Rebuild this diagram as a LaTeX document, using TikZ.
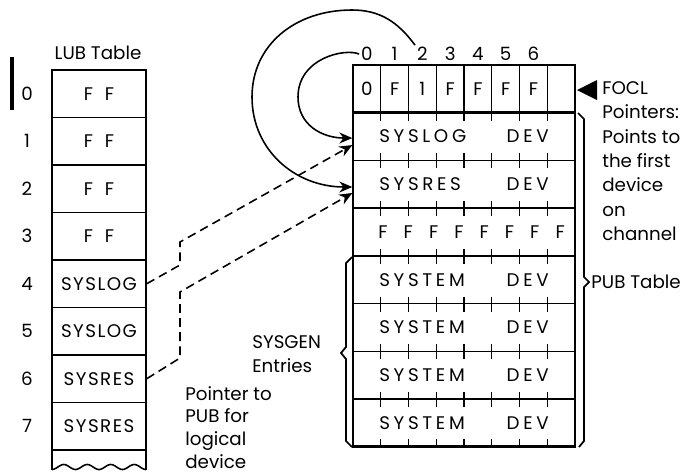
\documentclass[tikz,border=0pt]{standalone}
\usepackage{fontspec}
\setmainfont{Poppins}
\newfontfamily\spaced[LetterSpace=20]{Poppins}
\newfontfamily\cellspaced[LetterSpace=8]{Poppins}
\usetikzlibrary{arrows.meta}

\newcommand\txtfont{\fontsize{10.4}{13.9}\selectfont}
\newcommand\lubfont{\cellspaced\fontsize{10.4}{12}\selectfont}
\newcommand\pubfont{\spaced\fontsize{10.4}{12}\selectfont}

\tikzset{
  lubcell/.style={draw, line width=0.8pt, minimum width=1.88cm, minimum height=0.95cm, inner sep=0pt, font=\lubfont},
  rownum/.style={inner sep=1pt, font=\txtfont},
  colnum/.style={inner sep=1pt, font=\txtfont},
  foclcell/.style={draw, line width=0.8pt, minimum width=0.555cm, minimum height=0.954cm, inner sep=0pt, font=\txtfont},
  pubrow/.style={draw, line width=0.8pt, minimum width=4.44cm, minimum height=0.954cm, inner sep=0pt},
  pubtxt/.style={inner sep=0pt, font=\pubfont},
  pubtick/.style={line width=0.8pt},
  note/.style={inner sep=0pt, align=left, font=\txtfont},
  dashline/.style={line width=0.9pt, dash pattern=on 5pt off 3pt},
  curve/.style={line width=0.9pt}
}

\begin{document}
\begin{tikzpicture}[x=0.02cm, y=-0.02cm, >={Stealth[length=2.6mm,width=2.2mm]}]
  \useasboundingbox (0,0) rectangle (693,474);

  % LUB table
  \node[note] (lubtitle) at (98,53) {LUB Table};
  \draw[line width=2.2pt] (12,57) -- (12,110);
  \foreach \i/\txt in {0/F\hspace{3pt} F,1/F\hspace{3pt} F,2/F\hspace{3pt} F,3/F\hspace{3pt} F,4/SYSLOG,5/SYSLOG,6/SYSRES,7/SYSRES}{
    \node[lubcell] (lub\i) at (99,{93.75+47.5*\i}) {\txt};
    \node[rownum] (num\i) at (27,{93.75+47.5*\i}) {\i};
  }
  \draw[line width=0.9pt] plot[domain=0:94, samples=80, smooth] ({52+\x},{467+2.5*cos(15.32*\x)});
  \draw[line width=1.6pt] (52,470) -- (52,70) -- (146,70) -- (146,470);

  % PUB table, FOCL row
  \foreach \k/\v in {0/0,1/F,2/1,3/F,4/F,5/F,6/F,7/{}}{
    \node[foclcell] (focl\k) at ({366.9+27.75*\k},88.85) {\v};
  }
  \foreach \k in {0,...,6}
    \node[colnum] (col\k) at ({366.9+27.75*\k},54) {\k};

  % PUB entries
  \foreach \r/\a/\b in {1/SYSLOG/DEV,2/SYSRES/DEV,3/{}/{},4/SYSTEM/DEV,5/SYSTEM/DEV,6/SYSTEM/DEV,7/SYSTEM/DEV}{
    \node[pubrow] (pub\r) at (464,{112.7+47.7*(\r-0.5)}) {};
    \node[pubtxt, anchor=west] (puba\r) at (379,{112.7+47.7*(\r-0.5)}) {\a};
    \node[pubtxt, anchor=east] (pubb\r) at (549,{112.7+47.7*(\r-0.5)}) {\b};
  }
  \foreach \k in {0,...,7}
    \node[pubtxt] (ff\k) at ({383+25.3*\k},231.95) {F};

  % column ticks
  \foreach \k in {1,...,7}{
    \draw[pubtick] ({353+27.75*\k},112.7) -- ++(0,8);
    \foreach \r in {1,...,6}
      \draw[pubtick] ({353+27.75*\k},{112.7+47.7*\r-7}) -- ++(0,15);
    \draw[pubtick] ({353+27.75*\k},446.6) -- ++(0,-8);
  }
  \draw[line width=1.6pt] (353,65) rectangle (575,446.6);
  \draw[line width=1.6pt] (353,112.7) -- (575,112.7);

  % FOCL pointer note
  \fill (577,90) -- (597,80) -- (597,100) -- cycle;
  \node[note, anchor=north west] (focltxt) at (602,81) {FOCL\\Pointers:\\Points to\\the first\\device\\on\\channel};

  % braces
  \draw[line width=1pt] (578,113) -- (584,119) -- (584,277) -- (589,282) -- (584,287) -- (584,441) -- (579,447);
  \node[note, anchor=west] (pubtitle) at (591,282) {PUB Table};
  \draw[line width=1pt] (352,257) -- (346,263) -- (346,347) -- (341,353) -- (346,359) -- (346,441) -- (352,447);
  \node[note, anchor=north west] (sysgen) at (252,335) {SYSGEN\\Entries};
  \node[note, anchor=north west, font=\fontsize{10.4}{12.9}\selectfont] (ptrnote) at (185,386) {Pointer to\\PUB for\\logical\\device};

  % LUB -> PUB pointers
  \coordinate (jog1a) at (180,265);
  \coordinate (jog1b) at (180,242);
  \draw[dashline, ->] (lub4.east) -- (jog1a) -- (jog1b) -- ([yshift=-0.17cm]pub1.west);
  \coordinate (jog2a) at (180,358);
  \coordinate (jog2b) at (180,292);
  \draw[dashline, ->] (lub6.east) -- (jog2a) -- (jog2b) -- ([yshift=-0.175cm]pub2.west);

  % FOCL -> first device
  \draw[curve, ->] (col0.west) .. controls (345,48) and (298,58) .. (298,97)
    .. controls (298,125) and (322,138) .. ([yshift=-0.03cm]pub1.west);
  \draw[curve, ->] (col2.north west) .. controls (398,22) and (380,10) .. (352,10)
    .. controls (295,10) and (252,45) .. (252,97)
    .. controls (252,150) and (295,187) .. ([yshift=-0.055cm]pub2.west);
\end{tikzpicture}
\end{document}
